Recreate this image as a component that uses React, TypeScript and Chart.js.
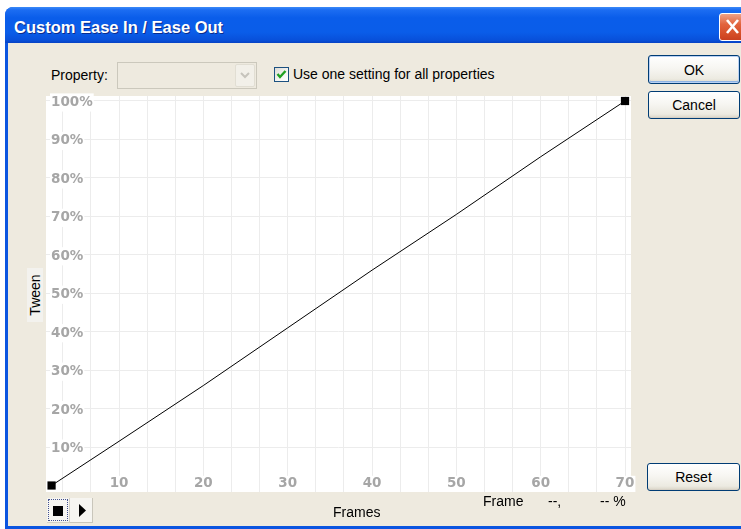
import React, { useEffect, useRef } from 'react';
import { Chart, registerables } from 'chart.js';

Chart.register(...registerables);

// ---- data (frames on x, tween % on y) ----
const frames = [2, 10, 20, 30, 40, 50, 60, 70];
const tween = [0, 11.5, 26, 41, 56, 70.5, 85.5, 100];
const xGridTicks = [3.33, 6.67, 10, 13.33, 16.67, 20, 23.33, 26.67, 30, 33.33, 36.67, 40, 43.33, 46.67, 50, 53.33, 56.67, 60, 63.33, 66.67, 70];
const xTickLabels = [10, 20, 30, 40, 50, 60, 70];
const yTicks = [10, 20, 30, 40, 50, 60, 70, 80, 90, 100];

const UI_FONT = '"Liberation Sans", Arial, sans-serif';
const BEIGE = '#EEEADF';

const xpButton = (left: number, top: number, width: number, height: number, label: string, isDefault = false) => (
  <div
    style={{
      position: 'absolute', left, top, width, height, boxSizing: 'border-box',
      border: '1px solid #003C74', borderRadius: 3,
      background: 'linear-gradient(180deg, #FFFFFF 0%, #F7F6F2 45%, #ECEAE1 85%, #D9D4C6 100%)',
      boxShadow: isDefault ? 'inset 0 0 0 1px #B9D1F4, inset 0 -1px 0 1px #8DB2E3' : 'inset 0 -1px 0 0 #D6D0C5',
      display: 'flex', alignItems: 'center', justifyContent: 'center',
      fontFamily: UI_FONT, fontSize: 14, color: '#000',
    }}
  >
    {label}
  </div>
);

const text = (left: number, top: number, s: string, extra: React.CSSProperties = {}) => (
  <div style={{ position: 'absolute', left, top, lineHeight: '18px', fontFamily: UI_FONT, fontSize: 14, color: '#000', whiteSpace: 'pre', ...extra }}>{s}</div>
);

export default function App() {
  const ref = useRef<HTMLCanvasElement>(null);

  useEffect(() => {
    if (!ref.current) return;
    const tickFont = { family: '"DejaVu Sans", Verdana, sans-serif', size: 13.5, weight: 'bold' as const, lineHeight: 1.2 };
    const radii = frames.map((_, i) => (i === 0 || i === frames.length - 1 ? 5.8 : 0));
    const chart = new Chart(ref.current, {
      type: 'line',
      data: {
        datasets: [
          {
            data: frames.map((f, i) => ({ x: f, y: tween[i] })),
            borderColor: '#000000',
            borderWidth: 1,
            pointStyle: 'rect',
            pointRadius: radii,
            pointHoverRadius: radii,
            pointBackgroundColor: '#000000',
            pointBorderWidth: 0,
            tension: 0,
            fill: false,
          },
        ],
      },
      options: {
        responsive: false,
        animation: false,
        devicePixelRatio: 1,
        events: [],
        layout: { padding: 20 },
        plugins: { legend: { display: false }, tooltip: { enabled: false } },
        scales: {
          x: {
            type: 'linear',
            min: 1.34,
            max: 70.71,
            afterBuildTicks: (s: any) => {
              s.ticks = xGridTicks.map((v) => ({ value: v }));
            },
            ticks: {
              autoSkip: false,
              maxRotation: 0,
              minRotation: 0,
              mirror: true,
              padding: 0,
              font: tickFont,
              color: '#A6A6A6',
              showLabelBackdrop: true,
              backdropColor: (ctx: any) =>
                ctx.tick && xTickLabels.includes(ctx.tick.value) ? '#FFFFFF' : 'rgba(255,255,255,0)',
              backdropPadding: { top: 0, bottom: 0, left: 1, right: 1 },
              callback: (v: any) => (xTickLabels.includes(Number(v)) ? String(v) : ''),
            },
            grid: { color: '#ECECEC', drawTicks: false, lineWidth: 1 },
            border: { display: false },
          },
          y: {
            type: 'linear',
            min: -1.69,
            max: 101.3,
            afterBuildTicks: (s: any) => {
              s.ticks = yTicks.map((v) => ({ value: v }));
            },
            ticks: {
              mirror: true,
              padding: 5,
              labelOffset: 1.5,
              font: tickFont,
              color: '#A6A6A6',
              showLabelBackdrop: true,
              backdropColor: '#FFFFFF',
              backdropPadding: 1,
              callback: (v: any) => `${v}%`,
            },
            grid: { color: '#ECECEC', drawTicks: false, lineWidth: 1 },
            border: { display: false },
          },
        },
      },
      plugins: [
        {
          id: 'whiteArea',
          beforeDraw: (c: any) => {
            const { ctx, chartArea } = c;
            ctx.save();
            ctx.fillStyle = '#FFFFFF';
            ctx.fillRect(chartArea.left, chartArea.top, chartArea.right - chartArea.left, chartArea.bottom - chartArea.top);
            ctx.restore();
          },
        },
      ],
    } as any);
    return () => chart.destroy();
  }, []);

  return (
    <div style={{ position: 'fixed', left: 0, top: 0, width: 741, height: 529, background: '#FFFFFF', overflow: 'hidden' }}>
      {/* window frame */}
      <div style={{ position: 'absolute', left: 5, top: 7, width: 800, height: 540, background: '#0B55E0', borderTopLeftRadius: 8 }} />
      {/* title bar */}
      <div
        style={{
          position: 'absolute', left: 5, top: 7, width: 800, height: 36, borderTopLeftRadius: 8,
          background: 'linear-gradient(180deg, #3B8AF7 0%, #1C6DF2 8%, #0A5DEA 30%, #0A5DE9 70%, #0850DA 92%, #0642C4 100%)',
        }}
      />
      <div
        style={{
          position: 'absolute', left: 14, top: 9, height: 36, lineHeight: '36px',
          fontFamily: UI_FONT, fontWeight: 'bold', fontSize: 16.5, color: '#FFFFFF',
          textShadow: '1px 1px 0 #0A2C8C', whiteSpace: 'pre',
        }}
      >
        Custom Ease In / Ease Out
      </div>
      {/* close button */}
      <div
        style={{
          position: 'absolute', left: 719, top: 13, width: 30, height: 28, boxSizing: 'border-box',
          border: '1px solid #FFFFFF', borderRadius: 3,
          background: 'linear-gradient(180deg, #F0A286 0%, #E2633D 40%, #D44C26 80%, #C94020 100%)',
        }}
      >
        <svg width="28" height="26" style={{ position: 'absolute', left: 0, top: 0 }}>
          <line x1="7" y1="6" x2="18" y2="19" stroke="#FFFFFF" strokeWidth="2.6" />
          <line x1="18" y1="6" x2="7" y2="19" stroke="#FFFFFF" strokeWidth="2.6" />
        </svg>
      </div>
      {/* body */}
      <div style={{ position: 'absolute', left: 8, top: 43, width: 800, height: 483, background: BEIGE }} />

      {/* Property row */}
      {text(51, 66, 'Property:')}
      <div style={{ position: 'absolute', left: 117, top: 62, width: 140, height: 27, boxSizing: 'border-box', border: '1px solid #CBC8BC', background: BEIGE }} />
      <div style={{ position: 'absolute', left: 235, top: 64, width: 20, height: 23, boxSizing: 'border-box', border: '1px solid #E1DED3', borderRadius: 2, background: '#F2F0E9' }}>
        <svg width="18" height="21" style={{ position: 'absolute', left: 0, top: 0 }}>
          <polyline points="5,8 9,12 13,8" fill="none" stroke="#C6C4BC" strokeWidth="2" />
        </svg>
      </div>
      {/* checkbox */}
      <div style={{ position: 'absolute', left: 274, top: 67, width: 15, height: 15, boxSizing: 'border-box', border: '1px solid #1C5180', background: 'linear-gradient(135deg, #DCDBD5 0%, #F6F6F3 60%, #FFFFFF 100%)' }}>
        <svg width="13" height="13" style={{ position: 'absolute', left: 0, top: 0 }}>
          <polyline points="2.5,6 5,9 10.5,3" fill="none" stroke="#21A121" strokeWidth="2.4" />
        </svg>
      </div>
      {text(293, 65, 'Use one setting for all properties')}

      {/* buttons */}
      {xpButton(648, 55, 92, 29, 'OK', true)}
      {xpButton(648, 91, 92, 28, 'Cancel')}
      {xpButton(647, 463, 93, 28, 'Reset')}

      {/* Tween label */}
      <div style={{ position: 'absolute', left: 27, top: 268, width: 16, height: 54, background: '#F3F2EE' }} />
      <div
        style={{
          position: 'absolute', left: 35, top: 295, transform: 'translate(-50%, -50%) rotate(-90deg)',
          fontFamily: UI_FONT, fontSize: 14, lineHeight: '16px', color: '#000', whiteSpace: 'pre',
        }}
      >
        Tween
      </div>

      {/* chart */}
      <canvas ref={ref} width={635} height={436} style={{ position: 'absolute', left: 16, top: 76, width: 635, height: 436, display: 'block' }} />

      {/* transport buttons */}
      <div style={{ position: 'absolute', left: 47, top: 498, width: 23, height: 25, boxSizing: 'border-box', background: '#F6F5F1', borderRight: '1px solid #D3D0C6', borderBottom: '1px solid #D3D0C6' }}>
        <div style={{ position: 'absolute', left: 1, top: 1, right: 1, bottom: 1, border: '1px dotted #42508F' }} />
        <div style={{ position: 'absolute', left: 6, top: 8, width: 10, height: 10, background: '#000' }} />
      </div>
      <div style={{ position: 'absolute', left: 70, top: 498, width: 23, height: 25, boxSizing: 'border-box', background: '#F6F5F1', borderRight: '1px solid #C9C6BB', borderBottom: '1px solid #C9C6BB' }}>
        <svg width="22" height="24" style={{ position: 'absolute', left: 0, top: 0 }}>
          <polygon points="9,6 16,12.5 9,19" fill="#000" />
        </svg>
      </div>

      {/* bottom texts */}
      {text(333, 503, 'Frames')}
      {text(483, 492, 'Frame')}
      {text(548, 492, '--,')}
      {text(600, 492, '-- %')}
    </div>
  );
}
